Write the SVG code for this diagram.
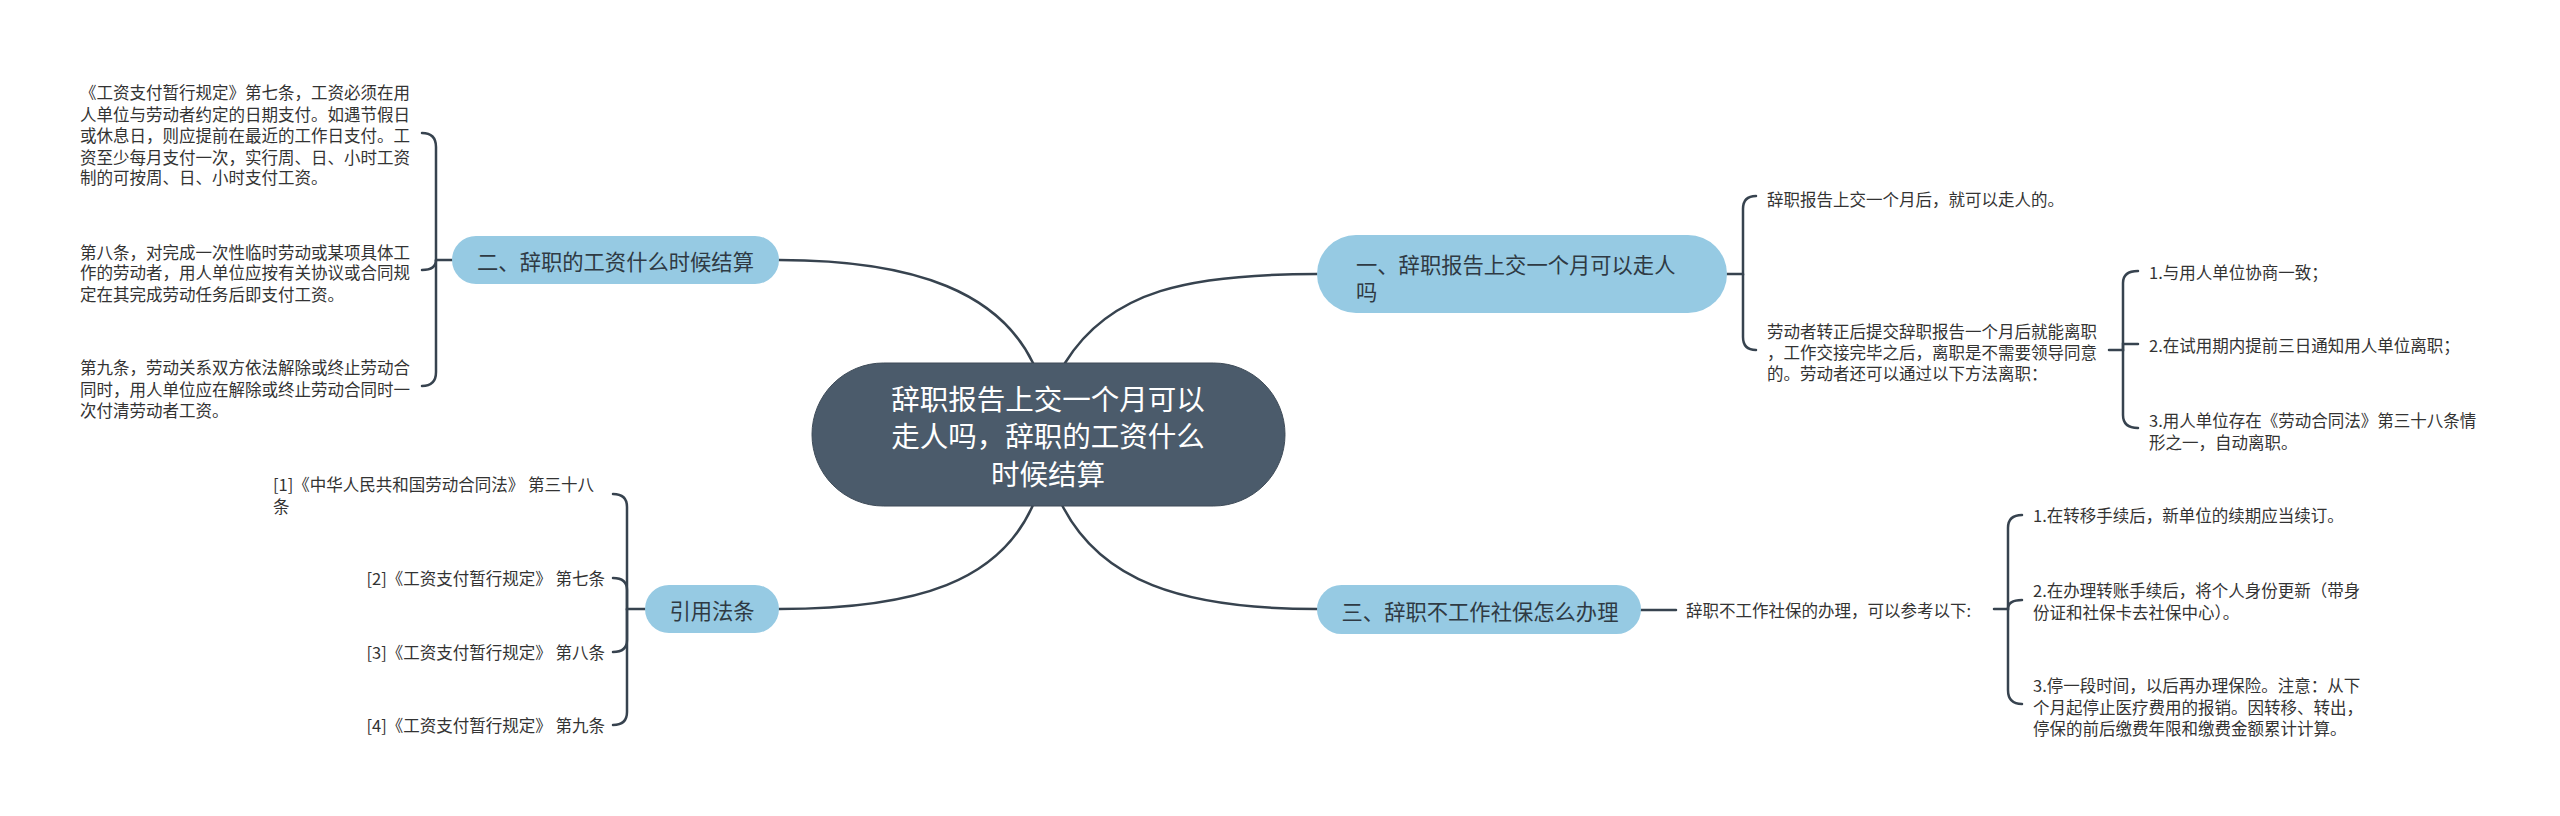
<svg xmlns="http://www.w3.org/2000/svg" width="2560" height="816" viewBox="0 0 2560 816">
<style>
.bg{fill:#ffffff}
.conn path{fill:none;stroke:#37434f;stroke-width:2.5;stroke-linecap:round}
.main{fill:#4b5b6b;stroke:#3e4b58;stroke-width:1}
.sub{fill:#96cae3}
.tmain{font-family:"Noto Sans CJK SC","Noto Sans",sans-serif;font-size:28.5px;fill:#ffffff;text-anchor:middle;dominant-baseline:central}
.tsub{font-family:"Noto Sans CJK SC","Noto Sans",sans-serif;font-size:21.3px;fill:#2f3a44;dominant-baseline:central}
.t{font-family:"Noto Sans CJK SC","Noto Sans",sans-serif;font-size:16.5px;fill:#333333;dominant-baseline:central}
.c{text-anchor:middle}
.e{text-anchor:end}
</style>
<rect class="bg" x="0" y="0" width="2560" height="816"/>
<g id="connectors" class="conn">
<path d="M1065,363 C1110,290 1190,274 1317,274"/>
<path d="M1033,363 C1000,295 920,260 779,260"/>
<path d="M1062,505 C1100,580 1180,609 1317,609"/>
<path d="M1033,505 C1000,580 920,609 779,609"/>
<!-- node 二 children -->
<path d="M452,260 H436 V147 Q436,133 422,133"/>
<path d="M436,260 Q436,270 422,270"/>
<path d="M436,260 V372 Q436,386 422,386"/>
<!-- 引用法条 children -->
<path d="M645,609 H627 V507 Q627,494 613,494"/>
<path d="M627,609 V590 Q627,578 613,578"/>
<path d="M627,609 V640 Q627,652 613,652"/>
<path d="M627,609 V712 Q627,725 613,725"/>
<!-- node 一 children -->
<path d="M1727,274 H1743 V209 Q1743,196 1756,196"/>
<path d="M1743,274 V337 Q1743,350 1756,350"/>
<!-- second-level children under 劳动者... -->
<path d="M2109,350 H2123 V283 Q2123,271 2138,271"/>
<path d="M2123,350 V344 Q2123,344 2138,344"/>
<path d="M2123,350 V415 Q2123,428 2138,428"/>
<!-- node 三 children -->
<path d="M1641,610 H1676"/>
<path d="M1994,609 H2008 V528 Q2008,515 2022,515"/>
<path d="M2008,609 Q2008,600 2022,600"/>
<path d="M2008,609 V690 Q2008,704 2022,704"/>
</g>
<g id="center">
<rect class="main" x="812" y="363" width="473" height="143" rx="71.5"/>
<text class="tmain" x="1048" y="397">辞职报告上交一个月可以</text>
<text class="tmain" x="1048" y="434.5">走人吗，辞职的工资什么</text>
<text class="tmain" x="1048" y="472">时候结算</text>
</g>
<g id="n1">
<rect class="sub" x="1317" y="235" width="410" height="78" rx="39"/>
<text class="tsub" x="1356" y="263">一、辞职报告上交一个月可以走人</text>
<text class="tsub" x="1356" y="290">吗</text>
</g>
<g id="n2">
<rect class="sub" x="452" y="236" width="327" height="48" rx="24"/>
<text class="tsub c" x="615.5" y="260">二、辞职的工资什么时候结算</text>
</g>
<g id="n3">
<rect class="sub" x="1317" y="585" width="324" height="49" rx="24.5"/>
<text class="tsub c" x="1480" y="610">三、辞职不工作社保怎么办理</text>
</g>
<g id="n4">
<rect class="sub" x="645" y="585" width="134" height="48" rx="24"/>
<text class="tsub c" x="712" y="609">引用法条</text>
</g>
<g id="n2-c1">
<text class="t" x="80" y="92">《工资支付暂行规定》第七条，工资必须在用</text>
<text class="t" x="80" y="113.5">人单位与劳动者约定的日期支付。如遇节假日</text>
<text class="t" x="80" y="135">或休息日，则应提前在最近的工作日支付。工</text>
<text class="t" x="80" y="156.5">资至少每月支付一次，实行周、日、小时工资</text>
<text class="t" x="80" y="177">制的可按周、日、小时支付工资。</text>
</g>
<g id="n2-c2">
<text class="t" x="80" y="251.5">第八条，对完成一次性临时劳动或某项具体工</text>
<text class="t" x="80" y="272">作的劳动者，用人单位应按有关协议或合同规</text>
<text class="t" x="80" y="293.5">定在其完成劳动任务后即支付工资。</text>
</g>
<g id="n2-c3">
<text class="t" x="80" y="367">第九条，劳动关系双方依法解除或终止劳动合</text>
<text class="t" x="80" y="388.5">同时，用人单位应在解除或终止劳动合同时一</text>
<text class="t" x="80" y="410">次付清劳动者工资。</text>
</g>
<g id="n4-c1">
<text class="t" x="273" y="484">[1]《中华人民共和国劳动合同法》 第三十八</text>
<text class="t" x="273" y="506">条</text>
</g>
<g id="n4-c2"><text class="t e" x="605" y="578">[2]《工资支付暂行规定》 第七条</text></g>
<g id="n4-c3"><text class="t e" x="605" y="652">[3]《工资支付暂行规定》 第八条</text></g>
<g id="n4-c4"><text class="t e" x="605" y="725">[4]《工资支付暂行规定》 第九条</text></g>
<g id="n1-c1"><text class="t" x="1767" y="199">辞职报告上交一个月后，就可以走人的。</text></g>
<g id="n1-c2">
<text class="t" x="1767" y="331">劳动者转正后提交辞职报告一个月后就能离职</text>
<text class="t" x="1767" y="352">，工作交接完毕之后，离职是不需要领导同意</text>
<text class="t" x="1767" y="373">的。劳动者还可以通过以下方法离职：</text>
</g>
<g id="n1-c2-1"><text class="t" x="2149" y="272">1.与用人单位协商一致；</text></g>
<g id="n1-c2-2"><text class="t" x="2149" y="345">2.在试用期内提前三日通知用人单位离职；</text></g>
<g id="n1-c2-3">
<text class="t" x="2149" y="420">3.用人单位存在《劳动合同法》第三十八条情</text>
<text class="t" x="2149" y="442">形之一，自动离职。</text>
</g>
<g id="n3-c1"><text class="t" x="1686" y="610">辞职不工作社保的办理，可以参考以下:</text></g>
<g id="n3-c1-1"><text class="t" x="2033" y="515">1.在转移手续后，新单位的续期应当续订。</text></g>
<g id="n3-c1-2">
<text class="t" x="2033" y="590">2.在办理转账手续后，将个人身份更新（带身</text>
<text class="t" x="2033" y="612">份证和社保卡去社保中心）。</text>
</g>
<g id="n3-c1-3">
<text class="t" x="2033" y="685">3.停一段时间，以后再办理保险。注意：从下</text>
<text class="t" x="2033" y="706.5">个月起停止医疗费用的报销。因转移、转出，</text>
<text class="t" x="2033" y="728">停保的前后缴费年限和缴费金额累计计算。</text>
</g>
</svg>
